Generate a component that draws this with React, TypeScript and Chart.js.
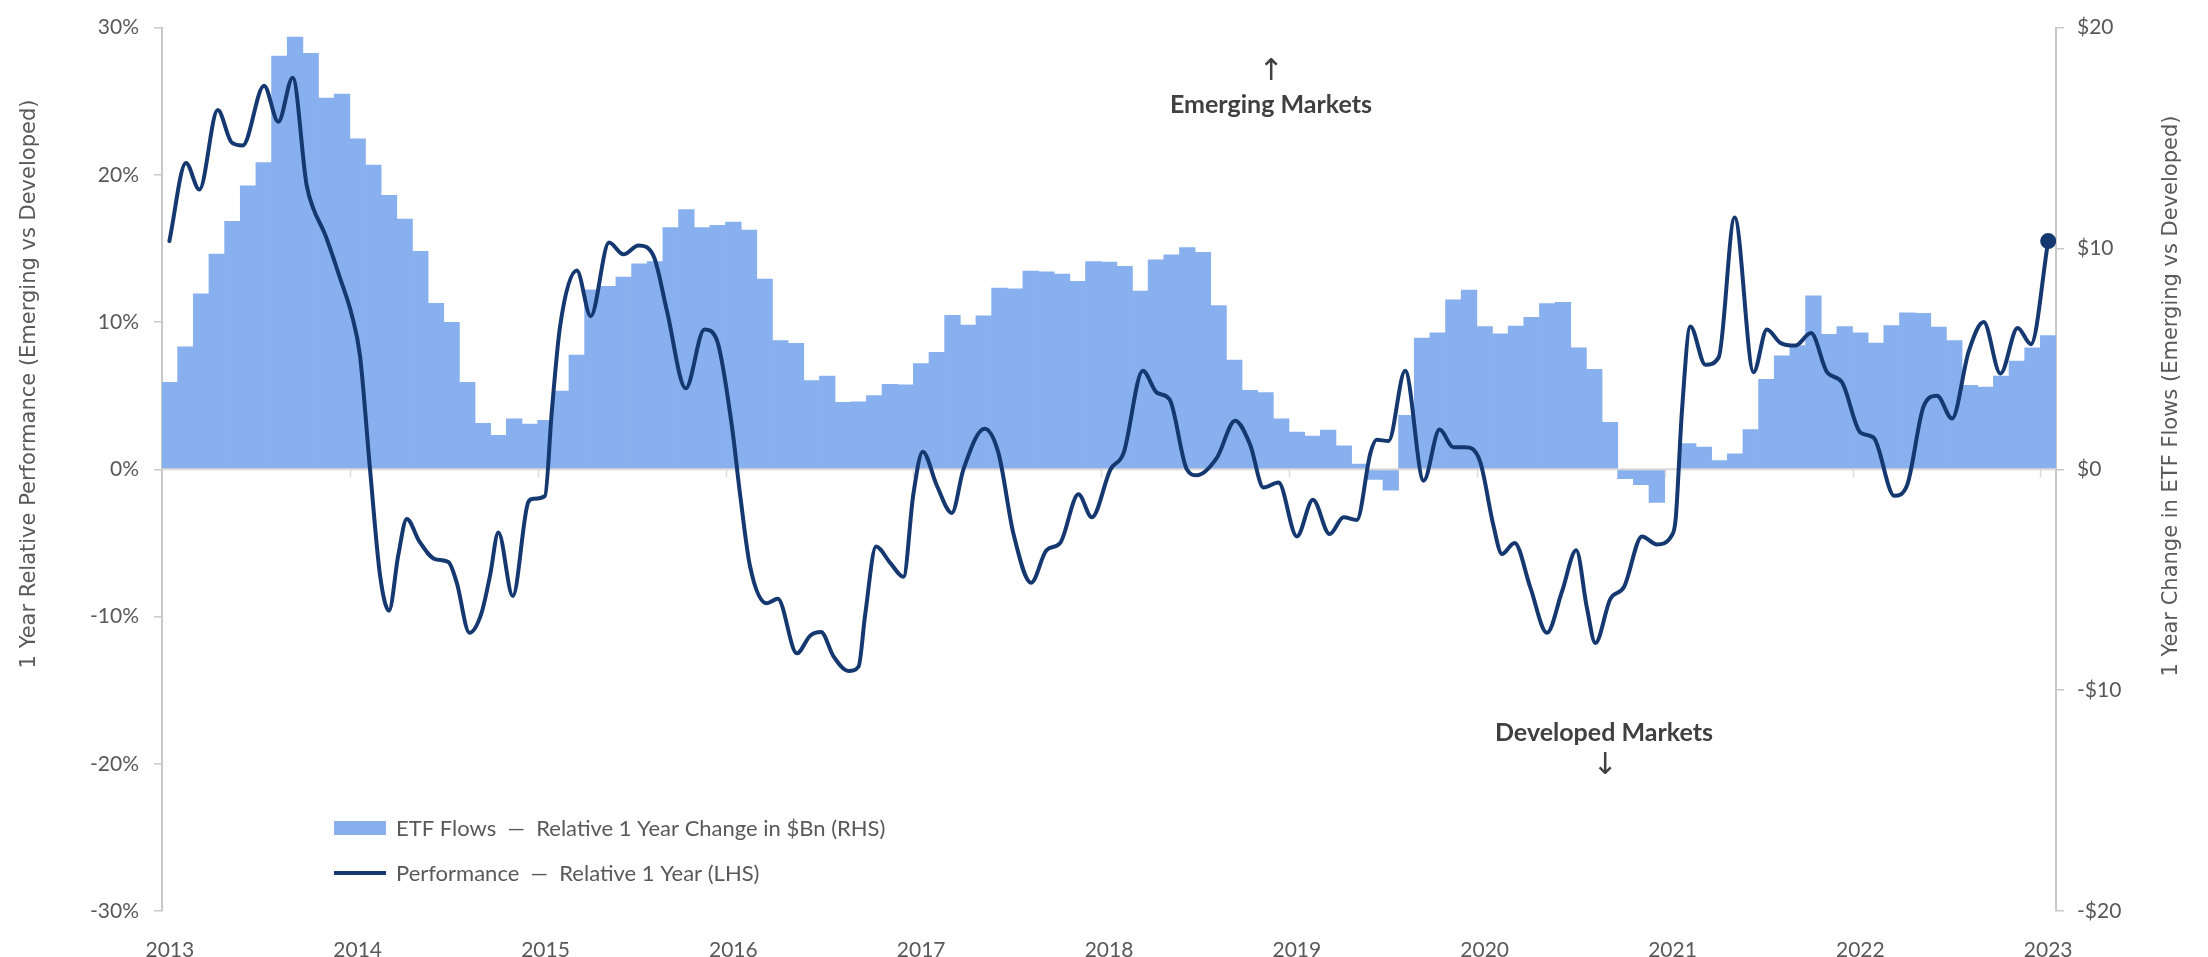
import React, { useEffect, useRef } from 'react';
import { Chart, registerables } from 'chart.js';

Chart.register(...registerables);

// ---------- DATA ----------
const yearLabels = ['2013', '2014', '2015', '2016', '2017', '2018', '2019', '2020', '2021', '2022', '2023'];

// ETF flows, relative 1 year change in $Bn (RHS), monthly Jan 2013 .. Jan 2023
const flows2013 = [3.94, 5.55, 7.95, 9.75, 11.23, 12.84, 13.89, 18.71, 19.57, 18.83, 16.81, 16.99];
const flows2014 = [14.96, 13.77, 12.4, 11.33, 9.87, 7.51, 6.65, 3.94, 2.08, 1.54, 2.29, 2.05];
const flows2015 = [2.22, 3.54, 5.17, 8.13, 8.29, 8.7, 9.3, 9.41, 10.95, 11.76, 10.95, 11.05];
const flows2016 = [11.19, 10.83, 8.61, 5.83, 5.7, 4.02, 4.22, 3.03, 3.06, 3.34, 3.85, 3.82];
const flows2017 = [4.79, 5.3, 6.97, 6.53, 6.95, 8.2, 8.17, 8.97, 8.94, 8.84, 8.51, 9.41];
const flows2018 = [9.38, 9.19, 8.07, 9.49, 9.71, 10.04, 9.82, 7.41, 4.94, 3.58, 3.47, 2.28];
const flows2019 = [1.69, 1.5, 1.78, 1.06, 0.24, -0.46, -0.95, 2.44, 5.94, 6.18, 7.67, 8.11];
const flows2020 = [6.46, 6.13, 6.48, 6.88, 7.5, 7.56, 5.5, 4.53, 2.13, -0.42, -0.7, -1.5];
const flows2021 = [0, 1.16, 1.01, 0.4, 0.7, 1.8, 4.07, 5.14, 5.6, 7.85, 6.11, 6.46];
const flows2022 = [6.18, 5.72, 6.51, 7.08, 7.06, 6.44, 5.83, 3.8, 3.72, 4.22, 4.9, 5.5];
const flows2023 = [6.06];

// Performance, relative 1 year (LHS, %). Position in months since start of Jan 2013.
const perfMonths = [
  0.47, 1.53, 2.39, 3.56, 4.45, 5.16, 6.52, 7.43, 8.35, 9.24, 9.67, 10.4, 11.37, 12.12, 12.65, 13.29,
  13.93, 14.5, 15.1, 15.64, 16.44, 17.44, 18.3, 18.83, 19.64, 20.4, 20.96, 21.49, 22.41, 23.41, 23.73,
  24.47, 24.9, 25.43, 26.5, 27.39, 28.56, 29.48, 30.44, 31.4, 32.25, 33.46, 34.65, 35.44, 36.4, 36.93,
  37.57, 38.64, 39.34, 40.56, 41.41, 42.1, 42.9, 43.86, 44.5, 44.92, 45.62, 46.52, 47.37, 48.0, 48.6,
  49.5, 50.46, 51.2, 52.55, 53.44, 54.4, 55.53, 56.5, 57.38, 58.55, 59.4, 60.6, 61.43, 62.66, 63.56,
  64.37, 65.47, 66.1, 67.4, 68.56, 69.52, 70.37, 71.33, 72.5, 73.53, 74.59, 75.49, 76.33, 77.2, 77.6,
  78.36, 79.42, 80.6, 81.62, 82.5, 83.25, 84.2, 85.07, 85.6, 86.41, 87.41, 88.48, 89.44, 90.35, 91.03,
  91.57, 92.53, 93.4, 94.55, 95.5, 96.45, 96.7, 97.1, 97.64, 98.6, 99.45, 100.47, 101.68, 102.53,
  103.38, 104.34, 105.35, 106.37, 107.33, 108.5, 109.35, 110.67, 111.48, 112.55, 113.4, 114.36,
  115.42, 116.38, 117.45, 118.55, 119.4, 120.5,
];
const perfValues = [
  15.5, 20.8, 19.0, 24.4, 22.2, 22.0, 26.05, 23.6, 26.6, 19.3, 17.7, 16.0, 13.0, 10.5, 7.7, 0,
  -7.2, -9.6, -5.8, -3.37, -4.9, -6.1, -6.3, -7.7, -11.1, -9.8, -7.2, -4.3, -8.6, -2.2, -2.0,
  -1.8, 3.9, 9.7, 13.5, 10.4, 15.4, 14.6, 15.2, 14.5, 10.8, 5.5, 9.5, 8.8, 3.0, -1.7,
  -6.6, -9.1, -8.8, -12.5, -11.3, -11.05, -12.7, -13.7, -13.4, -9.9, -5.25, -6.35, -7.3, -1.7, 1.2,
  -1.1, -2.96, 0, 2.76, 1.1, -4.4, -7.7, -5.5, -5.0, -1.7, -3.26, 0, 1.1, 6.7, 5.2,
  4.75, 0, -0.4, 0.8, 3.3, 1.66, -1.24, -0.9, -4.56, -2.07, -4.4, -3.26, -3.45, 1.1, 2.0,
  1.93, 6.7, -0.77, 2.7, 1.5, 1.5, 0.55, -3.87, -5.75, -5.0, -8.0, -11.1, -8.3, -5.5, -9.4,
  -11.8, -8.8, -8.0, -4.56, -5.1, -4.5, -3.4, 3.9, 9.7, 7.1, 7.6, 17.1, 6.6, 9.5,
  8.6, 8.4, 9.25, 6.6, 5.9, 2.5, 2.15, -1.8, -1.1, 4.3, 5.0, 3.45,
  8.0, 10.0, 6.5, 9.6, 8.5, 15.5,
];

const leftTicks = [-30, -20, -10, 0, 10, 20, 30];
const rightTicks = [-20, -10, 0, 10, 20];

const flowLabel = 'ETF Flows  \u2014  Relative 1 Year Change in $Bn (RHS)';
const perfLabel = 'Performance  \u2014  Relative 1 Year (LHS)';
const leftTitle = '1 Year Relative Performance (Emerging vs Developed)';
const rightTitle = '1 Year Change in ETF Flows (Emerging vs Developed)';
const emergingText = 'Emerging Markets';
const developedText = 'Developed Markets';

// ---------- STYLE ----------
const BAR_COLOR = 'rgb(137,176,238)';
const LINE_COLOR = '#14386f';
const AXIS_COLOR = '#c8c8c8';
const TEXT_COLOR = '#595959';
const NOTE_COLOR = '#404040';
const TICK_FONT = 'Lato';

const allFlows = [
  ...flows2013, ...flows2014, ...flows2015, ...flows2016, ...flows2017, ...flows2018,
  ...flows2019, ...flows2020, ...flows2021, ...flows2022, ...flows2023,
];

const decorPlugin = {
  id: 'decor',
  afterDatasetDraw(chart: any, args: any) {
    if (args.index !== 0) return;
    const { ctx, chartArea } = chart;
    const x = chart.scales.x;
    const y0 = chart.scales.y2.getPixelForValue(0);
    ctx.save();
    ctx.strokeStyle = '#d9d9d9';
    ctx.lineWidth = 2;
    ctx.beginPath();
    ctx.moveTo(chartArea.left, y0);
    ctx.lineTo(chartArea.right, y0);
    ctx.stroke();
    ctx.lineWidth = 1.5;
    for (let k = 1; k < yearLabels.length; k++) {
      const px = Math.round(x.getPixelForValue(k * 12)) + 0.5;
      ctx.beginPath();
      ctx.moveTo(px, y0);
      ctx.lineTo(px, y0 + 8);
      ctx.stroke();
    }
    ctx.restore();
  },
  afterDraw(chart: any) {
    const { ctx } = chart;
    ctx.save();
    // axis titles
    ctx.fillStyle = TEXT_COLOR;
    ctx.font = '21px "DejaVu Sans"';
    ctx.textAlign = 'center';
    ctx.textBaseline = 'middle';
    ctx.save();
    ctx.translate(30, 384);
    ctx.rotate(-Math.PI / 2);
    ctx.fillText(leftTitle, 0, 0);
    ctx.restore();
    ctx.save();
    ctx.translate(2172, 396);
    ctx.rotate(-Math.PI / 2);
    ctx.fillText(rightTitle, 0, 0);
    ctx.restore();

    // legend
    ctx.fillStyle = BAR_COLOR;
    ctx.fillRect(334, 821, 52, 14);
    ctx.strokeStyle = LINE_COLOR;
    ctx.lineWidth = 4;
    ctx.beginPath();
    ctx.moveTo(334, 873);
    ctx.lineTo(386, 873);
    ctx.stroke();
    ctx.fillStyle = TEXT_COLOR;
    ctx.font = `22px ${TICK_FONT}`;
    ctx.textAlign = 'left';
    ctx.fillText(flowLabel, 396, 829);
    ctx.fillText(perfLabel, 396, 874);

    // annotations
    ctx.fillStyle = NOTE_COLOR;
    ctx.textAlign = 'center';
    ctx.font = `bold 25px ${TICK_FONT}`;
    ctx.fillText(emergingText, 1271, 105);
    ctx.fillText(developedText, 1604, 733);
    ctx.font = '30px "DejaVu Sans"';
    ctx.fillText('\u2191', 1271, 72);
    ctx.fillText('\u2193', 1605, 766);
    ctx.restore();
  },
};

export default function App() {
  const ref = useRef<HTMLCanvasElement>(null);

  useEffect(() => {
    document.body.style.margin = '0';
    document.body.style.background = '#ffffff';
    const canvas = ref.current;
    if (!canvas) return;

    const barData = allFlows.map((v, i) => ({ x: i + 0.5, y: v }));
    const lineData = perfMonths.map((m, i) => ({ x: m, y: perfValues[i] }));
    const lastIdx = lineData.length - 1;

    const chart = new Chart(canvas, {
      type: 'bar',
      data: {
        datasets: [
          {
            type: 'bar',
            label: flowLabel,
            data: barData,
            yAxisID: 'y2',
            backgroundColor: BAR_COLOR,
            borderWidth: 0,
            barPercentage: 1,
            categoryPercentage: 1,
            order: 2,
          } as any,
          {
            type: 'line',
            label: perfLabel,
            data: lineData,
            yAxisID: 'y',
            borderColor: LINE_COLOR,
            backgroundColor: LINE_COLOR,
            borderWidth: 4,
            cubicInterpolationMode: 'monotone',
            pointRadius: (c: any) => (c.dataIndex === lastIdx ? 6 : 0),
            pointHoverRadius: 0,
            borderCapStyle: 'round',
            borderJoinStyle: 'round',
            order: 1,
          } as any,
        ],
      },
      options: {
        animation: false,
        responsive: false,
        devicePixelRatio: 1,
        events: [],
        layout: { padding: { top: 19, left: 0, right: 0, bottom: 0 } },
        plugins: {
          legend: { display: false },
          tooltip: { enabled: false },
          title: { display: false },
        },
        scales: {
          x: {
            type: 'linear',
            min: 0,
            max: 121,
            offset: false,
            grid: { display: false },
            border: { display: false },
            afterBuildTicks: (axis: any) => {
              axis.ticks = yearLabels.map((_, k) => ({ value: k * 12 + 0.5 }));
            },
            afterFit: (s: any) => {
              s.height = 46;
            },
            ticks: {
              autoSkip: false,
              maxRotation: 0,
              padding: 19,
              color: TEXT_COLOR,
              font: { family: TICK_FONT, size: 21 },
              callback: (_v: any, i: number) => yearLabels[i],
            },
          },
          y: {
            type: 'linear',
            position: 'left',
            min: -30,
            max: 30,
            afterBuildTicks: (axis: any) => {
              axis.ticks = leftTicks.map((v) => ({ value: v }));
            },
            afterFit: (s: any) => {
              s.width = 162;
            },
            grid: { drawOnChartArea: false, drawTicks: true, tickLength: 8, color: AXIS_COLOR, lineWidth: 1.5 },
            border: { display: true, color: AXIS_COLOR, width: 2 },
            ticks: {
              padding: 15,
              color: TEXT_COLOR,
              font: { family: TICK_FONT, size: 21 },
              callback: (v: any) => `${v}%`,
            },
          },
          y2: {
            type: 'linear',
            position: 'right',
            min: -20,
            max: 20,
            afterBuildTicks: (axis: any) => {
              axis.ticks = rightTicks.map((v) => ({ value: v }));
            },
            afterFit: (s: any) => {
              s.width = 152;
            },
            grid: { drawOnChartArea: false, drawTicks: true, tickLength: 8, color: AXIS_COLOR, lineWidth: 1.5 },
            border: { display: true, color: AXIS_COLOR, width: 2 },
            ticks: {
              padding: 13,
              color: TEXT_COLOR,
              font: { family: TICK_FONT, size: 21 },
              callback: (v: any) => `${v < 0 ? '-' : ''}$${Math.abs(v)}`,
            },
          },
        },
      },
      plugins: [decorPlugin],
    });

    return () => chart.destroy();
  }, []);

  return (
    <div style={{ width: 2208, height: 957, background: '#ffffff' }}>
      <canvas ref={ref} width={2208} height={957} style={{ display: 'block' }} />
    </div>
  );
}
